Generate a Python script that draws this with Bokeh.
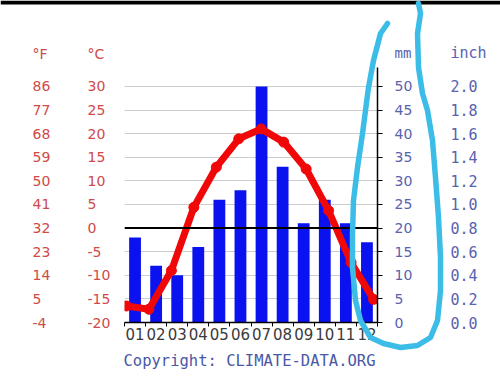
from bokeh.plotting import figure
from bokeh.models import Range1d, LinearAxis, FixedTicker, Span, GridBox
from bokeh.core.properties import value
from bokeh.embed import file_html
from bokeh.resources import INLINE

# ---- data ----
months = ["01", "02", "03", "04", "05", "06", "07", "08", "09", "10", "11", "12"]
temp_c = [-16.5, -17.2, -9.0, 4.4, 12.9, 18.9, 21.0, 18.2, 12.5, 3.7, -7.3, -15.1]
precip_mm = [18, 12, 10, 16, 26, 28, 50, 33, 21, 26, 21, 17]

celsius_ticks = [-20, -15, -10, -5, 0, 5, 10, 15, 20, 25, 30]
fahrenheit_labels = ["-4", "5", "14", "23", "32", "41", "50", "59", "68", "77", "86"]
mm_ticks = [0, 5, 10, 15, 20, 25, 30, 35, 40, 45, 50]
inch_labels = ["0.0", "0.2", "0.4", "0.6", "0.8", "1.0", "1.2", "1.4", "1.6", "1.8", "2.0"]

# ---- layout ----
W, H = 500, 376
FL, FR, FT, FB = 124, 377, 67, 322   # plot frame edges in canvas pixels
Y0, Y1 = -20, 34                     # °C range of the frame
MM_OFFSET = 20                       # 0 mm sits at -20 °C (1 mm per °C)

RED = "#f00808"
BLUE = "#0a12f0"
RED_TXT = "#cf4a48"
BLUE_TXT = "#5862ae"
NUM_FONT = "DejaVu Sans"
MONO = "DejaVu Sans Mono"

# ================= main chart =================
p = figure(width=W, height=H, output_backend="svg", toolbar_location=None,
           x_range=Range1d(0.5, 12.5), y_range=Range1d(Y0, Y1),
           min_border_left=FL, min_border_right=W - FR,
           min_border_top=FT, min_border_bottom=H - FB)
p.extra_y_ranges = {"mm": Range1d(Y0 + MM_OFFSET, Y1 + MM_OFFSET)}
p.extra_x_ranges = {"line": Range1d(0.911, 12.178)}
p.outline_line_color = None
p.background_fill_color = "white"
p.border_fill_color = "white"

p.yaxis.visible = False
p.xgrid.visible = False
p.ygrid.ticker = FixedTicker(ticks=celsius_ticks)
p.ygrid.grid_line_color = "#cdcdcd"
p.ygrid.grid_line_width = 1

x_pos = list(range(1, len(months) + 1))

p.vbar(x=x_pos, top=precip_mm, bottom=0, width=0.56, y_range_name="mm",
       fill_color=BLUE, line_color=None)

p.add_layout(Span(location=0, dimension="width", line_color="black", line_width=2))

p.line(x=x_pos, y=temp_c, x_range_name="line", line_color=RED, line_width=7,
       line_join="round")
p.scatter(x=x_pos, y=temp_c, x_range_name="line", size=10, fill_color=RED,
          line_color=RED)

xa = p.xaxis[0]
xa.ticker = FixedTicker(ticks=x_pos,
                        minor_ticks=[x - 0.5 for x in x_pos] + [x_pos[-1] + 0.5])
xa.major_label_overrides = {x: m for x, m in zip(x_pos, months)}
xa.major_tick_out = 0
xa.major_tick_in = 0
xa.minor_tick_out = 4
xa.minor_tick_in = 0
xa.minor_tick_line_color = "black"
xa.axis_line_color = "black"
xa.axis_line_width = 1.5
xa.major_label_text_font = NUM_FONT
xa.major_label_text_font_size = "15px"
xa.major_label_text_color = "#3a3a3a"
xa.major_label_standoff = 1

ra = LinearAxis(y_range_name="mm", ticker=FixedTicker(ticks=mm_ticks))
ra.axis_line_color = "black"
ra.axis_line_width = 1.5
ra.major_tick_out = 5
ra.major_tick_in = 0
ra.major_tick_line_color = "black"
ra.minor_tick_line_color = None
ra.major_label_text_font = NUM_FONT
ra.major_label_text_font_size = "14px"
ra.major_label_text_color = BLUE_TXT
ra.major_label_standoff = 12
p.add_layout(ra, "right")

ia = LinearAxis(y_range_name="mm", ticker=FixedTicker(ticks=mm_ticks))
ia.major_label_overrides = {t: s for t, s in zip(mm_ticks, inch_labels)}
ia.axis_line_color = None
ia.major_tick_line_color = None
ia.minor_tick_line_color = None
ia.major_tick_out = 0
ia.major_tick_in = 0
ia.major_label_text_font = MONO
ia.major_label_text_font_size = "15px"
ia.major_label_text_color = BLUE_TXT
ia.major_label_standoff = 35
p.add_layout(ia, "right")

# ================= transparent overlay (texts outside the frame, scribble) =================
px_per_c = (FB - FT) / (Y1 - Y0)
o = figure(width=W, height=H, output_backend="svg", toolbar_location=None,
           x_range=Range1d(0, W), y_range=Range1d(H, 0),
           min_border=0, min_border_left=0, min_border_right=0,
           min_border_top=0, min_border_bottom=0)
o.extra_y_ranges = {"degC": Range1d(Y0 - (H - FB) / px_per_c, Y0 + FB / px_per_c)}
o.xaxis.visible = False
o.yaxis.visible = False
o.grid.visible = False
o.outline_line_color = None
o.background_fill_color = None
o.border_fill_color = None

# do not let the layout align the two plot frames
for fig in (p, o):
    if "frame_align" in fig.properties():
        fig.frame_align = False

n = len(celsius_ticks)
o.text(x=[87] * n, y=celsius_ticks, text=[str(t) for t in celsius_ticks],
       y_range_name="degC", text_font=value(NUM_FONT), text_font_size="14px",
       text_color=RED_TXT, text_align="left", text_baseline="middle")
o.text(x=[32] * n, y=celsius_ticks, text=fahrenheit_labels,
       y_range_name="degC", text_font=value(NUM_FONT), text_font_size="14px",
       text_color=RED_TXT, text_align="left", text_baseline="middle")

o.text(x=[32, 87], y=[53, 53], text=["°F", "°C"], text_font=value(NUM_FONT),
       text_font_size="14px", text_color=RED_TXT, text_align="left",
       text_baseline="middle")
o.text(x=[394], y=[52], text=["mm"], text_font=value(MONO), text_font_size="14px",
       text_color=BLUE_TXT, text_align="left", text_baseline="middle")
o.text(x=[450], y=[52], text=["inch"], text_font=value(MONO), text_font_size="15px",
       text_color=BLUE_TXT, text_align="left", text_baseline="middle")
o.text(x=[123], y=[360], text=["Copyright: CLIMATE-DATA.ORG"], text_font=value(MONO),
       text_font_size="15.5px", text_color="#4a58a6", text_align="left",
       text_baseline="middle")

# dark strip at the top edge of the photo
o.quad(left=[0], right=[W], top=[0], bottom=[4], fill_color="black", line_color=None)

# hand-drawn cyan loop (canvas pixels)
loop_x = [387, 380, 373, 368, 365, 362, 357, 353, 352, 352, 355, 360, 370, 383,
          400, 417, 430, 437, 440, 440, 438, 435, 432, 427, 422, 418, 417, 420, 418]
loop_y = [23, 33, 60, 87, 110, 133, 167, 200, 233, 267, 300, 320, 337, 343,
          347, 345, 337, 320, 290, 257, 217, 177, 140, 110, 93, 67, 33, 13, 3]
o.line(x=loop_x, y=loop_y, line_color="#3cbde8", line_width=5.5,
       line_join="round", line_cap="round")

layout = GridBox(children=[(p, 0, 0), (o, 0, 0)])

open("out.html", "w").write(file_html(layout, INLINE))
